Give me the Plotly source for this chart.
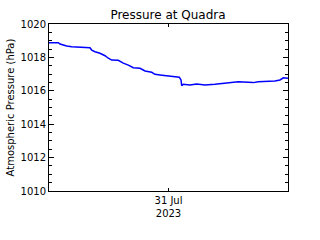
import plotly.graph_objects as go

times = [
    "2023-07-30 00:00", "2023-07-30 01:52", "2023-07-30 02:13", "2023-07-30 02:52",
    "2023-07-30 03:33", "2023-07-30 04:34", "2023-07-30 05:53", "2023-07-30 07:14",
    "2023-07-30 08:14", "2023-07-30 08:35", "2023-07-30 09:14", "2023-07-30 10:14",
    "2023-07-30 11:15", "2023-07-30 11:55", "2023-07-30 12:35", "2023-07-30 13:55",
    "2023-07-30 14:55", "2023-07-30 15:56", "2023-07-30 16:56", "2023-07-30 18:17",
    "2023-07-30 19:17", "2023-07-30 20:38", "2023-07-30 21:17", "2023-07-30 22:17",
    "2023-07-30 23:38", "2023-07-31 00:58", "2023-07-31 02:10", "2023-07-31 02:31",
    "2023-07-31 02:39", "2023-07-31 02:58", "2023-07-31 04:19", "2023-07-31 05:40",
    "2023-07-31 07:20", "2023-07-31 09:20", "2023-07-31 12:01", "2023-07-31 13:01",
    "2023-07-31 14:01", "2023-07-31 17:02", "2023-07-31 18:02", "2023-07-31 21:23",
    "2023-07-31 22:23", "2023-07-31 23:04", "2023-08-01 00:00",
]
pressure = [
    1018.88, 1018.88, 1018.80, 1018.74,
    1018.68, 1018.64, 1018.62, 1018.58,
    1018.58, 1018.44, 1018.34, 1018.25,
    1018.10, 1017.95, 1017.84, 1017.83,
    1017.66, 1017.54, 1017.38, 1017.35,
    1017.19, 1017.11, 1016.99, 1016.95,
    1016.90, 1016.84, 1016.81, 1016.65,
    1016.31, 1016.39, 1016.35, 1016.41,
    1016.35, 1016.39, 1016.45, 1016.51,
    1016.54, 1016.49, 1016.54, 1016.59,
    1016.65, 1016.78, 1016.75,
]

x_range = ["2023-07-30 00:00", "2023-08-01 00:00"]
y_range = [1010, 1020]
x_tickvals = ["2023-07-31 00:00"]
x_ticktext = ["31 Jul<br>2023"]
y_tickvals = [1010, 1012, 1014, 1016, 1018, 1020]

FONT = "DejaVu Sans"

fig = go.Figure()
fig.add_trace(go.Scatter(
    x=times, y=pressure, mode="lines",
    line=dict(color="#0000FF", width=1.5),
    showlegend=False,
))

fig.update_layout(
    width=320, height=240,
    margin=dict(l=49, r=32, t=24, b=49),
    paper_bgcolor="white", plot_bgcolor="white",
    font=dict(family=FONT, size=10, color="black"),
    title=dict(text="Pressure at Quadra", x=168 / 320, xanchor="center",
               y=1 - 15 / 240, yanchor="middle", yref="container",
               font=dict(family=FONT, size=12, color="black")),
)

fig.update_xaxes(
    type="date", range=x_range, automargin=False,
    tickvals=x_tickvals, ticktext=x_ticktext,
    showline=True, linecolor="black", linewidth=1, mirror="allticks",
    ticks="inside", ticklen=3, tickcolor="black",
    showgrid=False, zeroline=False,
    tickfont=dict(family=FONT, size=10),
)
fig.update_yaxes(
    range=y_range, tickvals=y_tickvals, automargin=False,
    showline=True, linecolor="black", linewidth=1, mirror="allticks",
    ticks="inside", ticklen=5, tickcolor="black",
    minor=dict(dtick=0.5, ticks="inside", ticklen=3, tickcolor="black", showgrid=False),
    showgrid=False, zeroline=False,
    tickfont=dict(family=FONT, size=10),
    title=dict(text="Atmospheric Pressure (hPa)", standoff=4,
               font=dict(family=FONT, size=10)),
)

fig.write_html("out.html", config={"displayModeBar": False},
               post_script="document.body.style.margin='0';")
